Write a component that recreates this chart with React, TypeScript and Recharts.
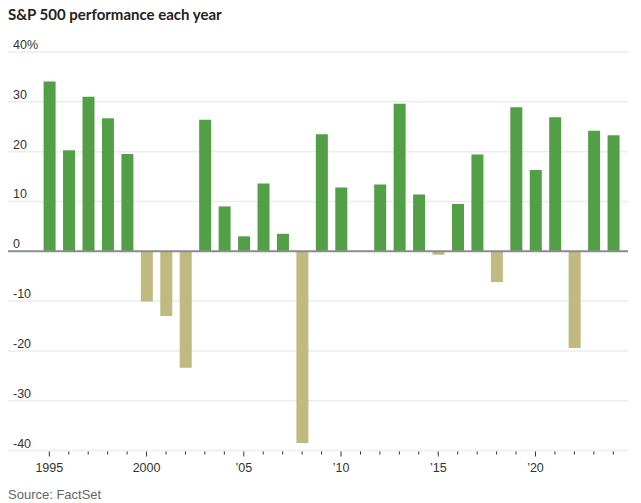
import React from 'react';
import { BarChart, Bar, Cell, XAxis, YAxis, CartesianGrid, ReferenceLine } from 'recharts';

// Annual S&P 500 price change, in percent
const years = [
  1995, 1996, 1997, 1998, 1999, 2000, 2001, 2002, 2003, 2004,
  2005, 2006, 2007, 2008, 2009, 2010, 2011, 2012, 2013, 2014,
  2015, 2016, 2017, 2018, 2019, 2020, 2021, 2022, 2023, 2024,
];
const changes = [
  34.1, 20.3, 31.0, 26.7, 19.5, -10.1, -13.0, -23.4, 26.4, 9.0,
  3.0, 13.6, 3.5, -38.5, 23.5, 12.8, 0.0, 13.4, 29.6, 11.4,
  -0.7, 9.5, 19.4, -6.2, 28.9, 16.3, 26.9, -19.4, 24.2, 23.3,
];
const yTicks = [-40, -30, -20, -10, 0, 10, 20, 30, 40];
const xLabels: Record<number, string> = {
  1995: '1995',
  2000: '2000',
  2005: '\u201905',
  2010: '\u201910',
  2015: '\u201915',
  2020: '\u201920',
};

const data = years.map((year, i) => ({ year, change: changes[i] }));

const FONT = '"Liberation Sans Narrow", "Liberation Sans", Roboto, sans-serif';
const UP = '#539f48';
const DOWN = '#c0b980';

const YTick = (props: any) => {
  const { y, payload } = props;
  const v = payload.value;
  return (
    <text x={13} y={y - 3} textAnchor="start" fontSize={12.5} fill="#333" fontFamily={FONT}>
      {v === 40 ? '40%' : String(v)}
    </text>
  );
};

const XTick = (props: any) => {
  const { x, y, payload } = props;
  const year = payload.value;
  const major = year % 5 === 0;
  return (
    <g>
      <line x1={x} x2={x} y1={y + 1} y2={y + (major ? 6 : 4)} stroke="#333" strokeWidth={1} />
      {xLabels[year] && (
        <text x={x} y={y + 21} textAnchor="middle" fontSize={12.5} fill="#333" fontFamily={FONT}>
          {xLabels[year]}
        </text>
      )}
    </g>
  );
};

export default function App() {
  return (
    <div style={{ position: 'relative', width: 641, height: 503, margin: '-8px 0 0 -8px', background: '#fff' }}>
      <div
        style={{
          position: 'absolute',
          left: 8,
          top: 5,
          fontFamily: 'Lato, sans-serif',
          fontWeight: 700,
          fontSize: 15,
          lineHeight: '18px',
          color: '#222',
        }}
      >
        S&amp;P 500 performance each year
      </div>
      <BarChart
        width={641}
        height={503}
        data={data}
        margin={{ top: 52, right: 13, left: 7, bottom: 22.5 }}
      >
        <CartesianGrid horizontal vertical={false} stroke="#ececec" strokeWidth={1.5} />
        <YAxis
          domain={[-40, 40]}
          ticks={yTicks}
          width={1}
          axisLine={false}
          tickLine={false}
          tick={YTick}
          interval={0}
        />
        <XAxis
          dataKey="year"
          height={30}
          axisLine={false}
          tickLine={false}
          tickSize={0}
          tickMargin={0}
          interval={0}
          padding={{ left: 31.6, right: 5 }}
          tick={XTick}
        />
        <ReferenceLine y={0} stroke="#8c8c8c" strokeWidth={2} />
        <Bar dataKey="change" barSize={12} isAnimationActive={false}>
          {data.map((d) => (
            <Cell key={d.year} fill={d.change >= 0 ? UP : DOWN} />
          ))}
        </Bar>
      </BarChart>
      <div
        style={{
          position: 'absolute',
          left: 8,
          top: 487,
          fontFamily: FONT,
          fontSize: 13,
          lineHeight: '16px',
          color: '#666',
        }}
      >
        Source: FactSet
      </div>
    </div>
  );
}
